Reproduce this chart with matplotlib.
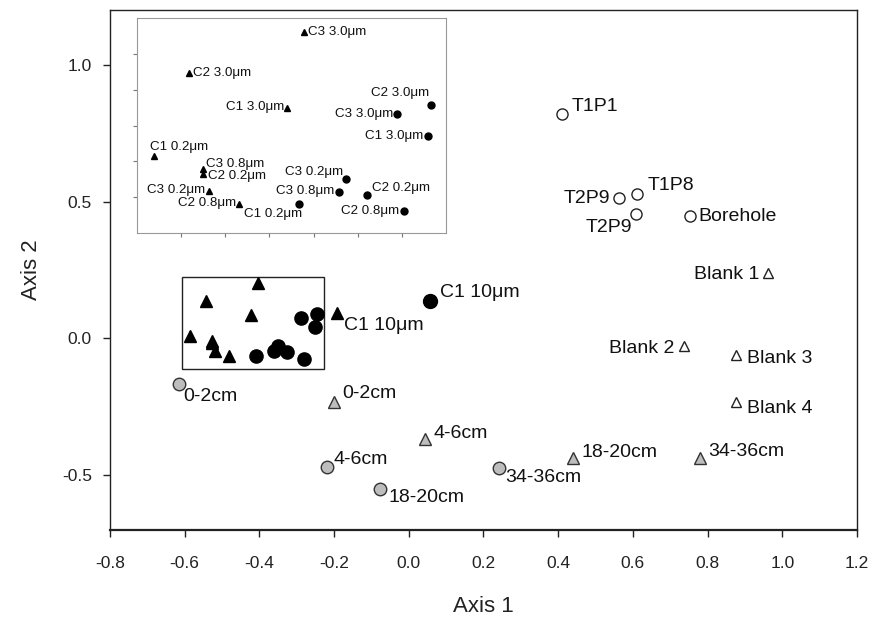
import matplotlib
matplotlib.use("Agg")
import matplotlib.patches as mpatches
import matplotlib.pyplot as plt
import numpy as np

plt.rcParams["font.family"] = ["Liberation Sans", "DejaVu Sans"]
plt.rcParams["axes.unicode_minus"] = False


# ── Data ──────────────────────────────────────────────────────────────────────
# open circles: field samples
site_names = ["T1P1", "T2P9", "T1P8", "T2P9", "Borehole"]
site_x     = [0.410, 0.562, 0.610, 0.608, 0.752]
site_y     = [0.821, 0.513, 0.527, 0.454, 0.447]

# open triangles: blanks
blank_names = ["Blank 1", "Blank 2", "Blank 3", "Blank 4"]
blank_x     = [0.961, 0.736, 0.876, 0.876]
blank_y     = [0.238, -0.029, -0.062, -0.234]

# grey circles / triangles: core depths
core_c_names = ["0-2cm", "4-6cm", "18-20cm", "34-36cm"]
core_c_x     = [-0.616, -0.220, -0.078, 0.241]
core_c_y     = [-0.165, -0.469, -0.549, -0.473]

core_t_names = ["0-2cm", "4-6cm", "18-20cm", "34-36cm"]
core_t_x     = [-0.201, 0.043, 0.439, 0.779]
core_t_y     = [-0.234, -0.366, -0.436, -0.436]

# black: filter fractions
c10_names = ["C1 10μm", "C1 10μm"]      # circle, triangle
c10_x     = [0.056, -0.193]
c10_y     = [0.136, 0.092]

filt_t_names = ["C3 3.0μm", "C2 3.0μm", "C1 3.0μm", "C1 0.2μm",
                "C3 0.8μm", "C2 0.2μm", "C3 0.2μm", "C2 0.8μm"]
filt_t_x     = [-0.403, -0.544, -0.423, -0.587, -0.527, -0.527, -0.520, -0.482]
filt_t_y     = [0.202, 0.138, 0.084, 0.009, -0.011, -0.018, -0.045, -0.065]

filt_c_names = ["C2 3.0μm", "C3 3.0μm", "C1 3.0μm", "C3 0.2μm",
                "C3 0.8μm", "C2 0.2μm", "C1 0.2μm", "C2 0.8μm"]
filt_c_x     = [-0.247, -0.288, -0.250, -0.351, -0.360, -0.325, -0.409, -0.280]
filt_c_y     = [0.088, 0.074, 0.040, -0.026, -0.047, -0.051, -0.065, -0.076]

# zoom box shown in the inset
BOX_X = (-0.608, -0.228)
BOX_Y = (-0.110, 0.223)

x_ticks = [-0.8, -0.6, -0.4, -0.2, 0.0, 0.2, 0.4, 0.6, 0.8, 1.0, 1.2]
y_ticks = [-0.5, 0.0, 0.5, 1.0]


# ── Label layout (pixel offsets, alignment) ───────────────────────────────────
site_lab   = [(10, 7, "left"), (-9, 0, "right"), (11, 9, "left"),
              (-4, -13, "right"), (9, 0, "left")]
blank_lab  = [(-8, -1, "right"), (-9, -2, "right"), (11, -3, "left"), (11, -6, "left")]
core_c_lab = [(5, -13, "left"), (7, 7, "left"), (9, -9, "left"), (6, -10, "left")]
core_t_lab = [(9, 9, "left"), (9, 5, "left"), (9, 5, "left"), (8, 6, "left")]
c10_lab    = [(10, 9, "left"), (7, -12, "left")]
filt_t_lab = [(4, 0, "left"), (4, 0, "left"), (-3, 1, "right"), (-4, 9, "left"),
              (3, 5, "left"), (5, -2, "left"), (-3, 1, "right"), (-3, 1, "right")]
filt_c_lab = [(-1, 12, "right"), (-4, 0, "right"), (-5, 0, "right"), (-3, 7, "right"),
              (-4, 1, "right"), (5, 7, "left"), (3, -10, "right"), (-5, 0, "right")]


def label_points(ax, names, xs, ys, layout, size):
    for n, x, y, (dx, dy, ha) in zip(names, xs, ys, layout):
        ax.annotate(n, (x, y), xytext=(dx, dy), textcoords="offset pixels",
                    ha=ha, va="center", fontsize=size, color="#111111")


fig = plt.figure(figsize=(8.72, 6.18), dpi=100)
ax = fig.add_axes([0.1261, 0.1424, 0.8567, 0.8414])

ax.plot(site_x, site_y, "o", ms=8, mfc="white", mec="#222222", mew=1.0)
ax.plot(blank_x, blank_y, "^", ms=7, mfc="white", mec="#222222", mew=1.0)
ax.plot(core_c_x, core_c_y, "o", ms=9, mfc="#bdbdbd", mec="#333333", mew=1.0)
ax.plot(core_t_x, core_t_y, "^", ms=8, mfc="#bdbdbd", mec="#333333", mew=1.0)
ax.plot(c10_x[:1], c10_y[:1], "o", ms=10, color="black")
ax.plot(c10_x[1:], c10_y[1:], "^", ms=9, color="black")
ax.plot(filt_t_x, filt_t_y, "^", ms=9, color="black")
ax.plot(filt_c_x, filt_c_y, "o", ms=9.5, color="black")

LAB = 14
label_points(ax, site_names, site_x, site_y, site_lab, LAB)
label_points(ax, blank_names, blank_x, blank_y, blank_lab, LAB)
label_points(ax, core_c_names, core_c_x, core_c_y, core_c_lab, LAB)
label_points(ax, core_t_names, core_t_x, core_t_y, core_t_lab, LAB)
label_points(ax, c10_names, c10_x, c10_y, c10_lab, LAB)

ax.add_patch(mpatches.Rectangle((BOX_X[0], BOX_Y[0]), BOX_X[1] - BOX_X[0],
                                BOX_Y[1] - BOX_Y[0], fill=False,
                                edgecolor="#222222", linewidth=1.0))

ax.set_xlim(-0.8, 1.2)
ax.set_ylim(-0.7, 1.2)
ax.set_xticks(x_ticks)
ax.set_yticks(y_ticks)
ax.xaxis.set_major_formatter(plt.FormatStrFormatter("%.1f"))
ax.yaxis.set_major_formatter(plt.FormatStrFormatter("%.1f"))
ax.tick_params(direction="out", length=5, width=1, labelsize=12.5, colors="#222222")
ax.tick_params(axis="x", pad=14)
ax.tick_params(axis="y", pad=8)
for s in ax.spines.values():
    s.set_color("#222222")
    s.set_linewidth(1.0)
ax.spines["bottom"].set_linewidth(1.6)
ax.set_xlabel("Axis 1", fontsize=16, labelpad=18, color="#222222")
ax.set_ylabel("Axis 2", fontsize=16, labelpad=14, color="#222222")

# ── Inset: enlarged view of the boxed cluster ─────────────────────────────────
ins = fig.add_axes([137 / 872, 1 - 233 / 618, 309 / 872, 215 / 618])
ins.plot(filt_t_x, filt_t_y, "^", ms=5, color="black")
ins.plot(filt_c_x, filt_c_y, "o", ms=5, color="black")
label_points(ins, filt_t_names, filt_t_x, filt_t_y, filt_t_lab, 9.6)
label_points(ins, filt_c_names, filt_c_x, filt_c_y, filt_c_lab, 9.6)
ins.set_xlim(*BOX_X)
ins.set_ylim(*BOX_Y)
ins.set_xticks(np.linspace(BOX_X[0], BOX_X[1], 8)[1:-1])
ins.set_yticks(np.linspace(BOX_Y[0], BOX_Y[1], 7)[1:-1])
ins.tick_params(direction="out", length=3, width=0.8, colors="#777777",
                labelbottom=False, labelleft=False)
for s in ins.spines.values():
    s.set_color("#999999")
    s.set_linewidth(0.8)

fig.savefig("out.png", dpi=100)
